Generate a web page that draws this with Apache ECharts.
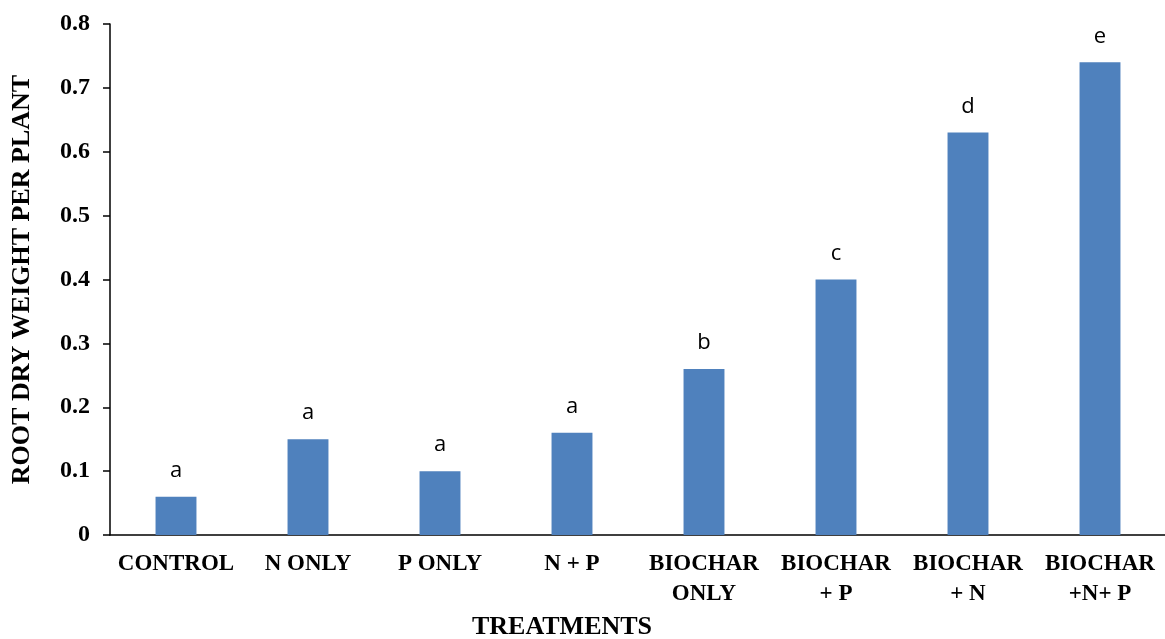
<!DOCTYPE html>
<html>
<head>
<meta charset="utf-8">
<script src="https://cdn.jsdelivr.net/npm/echarts@6/dist/echarts.min.js"></script>
<style>html,body{margin:0;padding:0;background:#fff}#c{width:1165px;height:639px}</style>
</head>
<body>
<div id="c"></div>
<script>
const categories = ['CONTROL', 'N ONLY', 'P ONLY', 'N + P', 'BIOCHAR\nONLY', 'BIOCHAR\n+ P', 'BIOCHAR\n+ N', 'BIOCHAR\n+N+ P'];
const values = [0.06, 0.15, 0.10, 0.16, 0.26, 0.40, 0.63, 0.74];
const letters = ['a', 'a', 'a', 'a', 'b', 'c', 'd', 'e'];
const yTicks = [0, 0.1, 0.2, 0.3, 0.4, 0.5, 0.6, 0.7, 0.8];

const chart = echarts.init(document.getElementById('c'));
const serif = '"Liberation Serif", "Times New Roman", serif';
chart.setOption({
  animation: false,
  grid: { left: 110, right: -1, top: 24, bottom: 104, containLabel: false, outerBoundsMode: 'none' },
  xAxis: {
    type: 'category',
    data: categories,
    name: 'TREATMENTS',
    nameLocation: 'middle',
    nameGap: 79,
    nameTextStyle: { fontFamily: serif, fontWeight: 'bold', fontSize: 26, color: '#000', padding: [0, 152, 0, 0] },
    axisLine: { lineStyle: { color: '#000', width: 1.5 } },
    axisTick: { show: false },
    axisLabel: { fontFamily: serif, fontWeight: 'bold', fontSize: 23, color: '#000', lineHeight: 30, margin: 14, interval: 0 }
  },
  yAxis: {
    type: 'value',
    min: 0, max: 0.8, interval: 0.1,
    name: 'ROOT DRY WEIGHT PER PLANT',
    nameLocation: 'middle',
    nameGap: 75,
    nameRotate: 90,
    nameTextStyle: { fontFamily: serif, fontWeight: 'bold', fontSize: 26, color: '#000' },
    axisLine: { show: true, lineStyle: { color: '#000', width: 1.5 } },
    axisTick: { show: true, length: 7, lineStyle: { color: '#000', width: 1.5 } },
    splitLine: { show: false },
    axisLabel: {
      fontFamily: serif, fontWeight: 'bold', fontSize: 24, color: '#000', margin: 20,
      formatter: v => { const t = yTicks.find(x => Math.abs(x - v) < 1e-9); return String(t !== undefined ? t : v); }
    }
  },
  series: [{
    type: 'bar',
    data: values,
    barWidth: '31%',
    itemStyle: { color: '#4F81BD' },
    label: {
      show: true,
      position: 'top',
      distance: 15,
      fontFamily: '"Open Sans", "Noto Sans", sans-serif',
      fontSize: 22,
      color: '#000',
      formatter: p => letters[p.dataIndex]
    }
  }]
});
</script>
</body>
</html>
